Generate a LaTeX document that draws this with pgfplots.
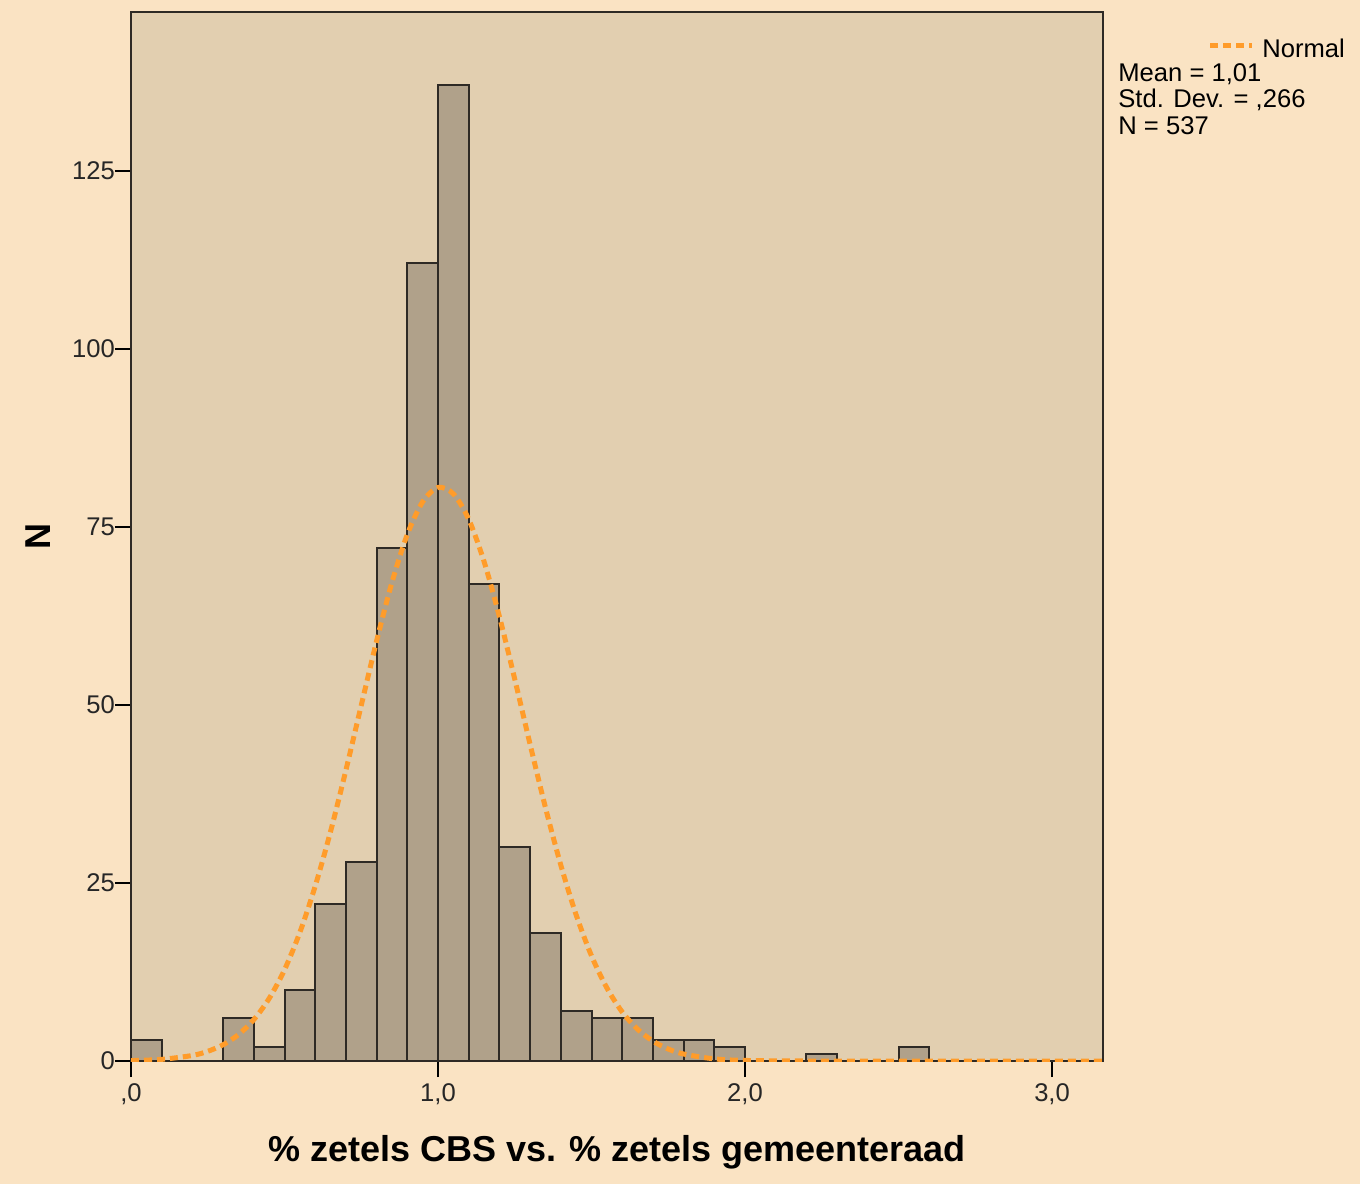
\documentclass[border=0pt]{standalone}
\usepackage{pgfplots}
\pgfplotsset{compat=1.18}
\usepackage{fontspec}
\setmainfont{Liberation Sans}
\definecolor{outerbg}{HTML}{FAE3C3}
\definecolor{innerbg}{HTML}{E2CFB0}
\definecolor{barfill}{HTML}{B0A18A}
\definecolor{baredge}{HTML}{2E2A25}
\definecolor{normorange}{HTML}{FF9C2A}
\begin{document}
\begin{tikzpicture}
\fill[outerbg] (0,0) rectangle (680pt,592pt);
\begin{axis}[
  at={(65.5pt,61.5pt)}, anchor=south west,
  scale only axis, width=486pt, height=524.5pt,
  xmin=0, xmax=3.166, ymin=0, ymax=147.3,
  axis background/.style={fill=innerbg},
  axis line style={draw=baredge, line width=1pt},
  tick align=outside,
  major tick length=8pt,
  tick style={draw=black, line width=0.9pt},
  xtick={0,1,2,3},
  xticklabels={{,0},{1,0},{2,0},{3,0}},
  ytick={0,25,50,75,100,125},
  xtick pos=bottom, ytick pos=left,
  /pgf/number format/assume math mode=true,
  ticklabel style={font=\fontsize{12.8}{14}\selectfont, text=black!85},
  yticklabel style={xshift=3.5pt},
  xlabel={\% zetels CBS vs. \% zetels gemeenteraad},
  ylabel={N},
  label style={font=\fontsize{18}{20}\selectfont\bfseries},
  xlabel style={yshift=-8pt},
  ylabel style={yshift=4pt},
  clip=true,
]
\addplot[ybar interval, fill=barfill, draw=baredge, line width=1pt] coordinates {
(0.0,3) (0.1,0) (0.2,0) (0.3,6) (0.4,2) (0.5,10) (0.6,22) (0.7,28) (0.8,72)
(0.9,112) (1.0,137) (1.1,67) (1.2,30) (1.3,18) (1.4,7) (1.5,6) (1.6,6)
(1.7,3) (1.8,3) (1.9,2) (2.0,0) (2.1,0) (2.2,1) (2.3,0) (2.4,0) (2.5,2) (2.6,0)
};
\addplot[normorange, line width=2.5pt, dash pattern=on 4pt off 2.5pt, smooth] coordinates {
(0.00,0.06) (0.10,0.23) (0.20,0.78) (0.25,1.36) (0.30,2.28) (0.35,3.71)
(0.40,5.81) (0.45,8.78) (0.50,12.81) (0.55,18.06) (0.60,24.56) (0.65,32.23)
(0.70,40.84) (0.75,49.95) (0.80,58.98) (0.85,67.21) (0.90,73.94) (0.95,78.52)
(1.00,80.53) (1.05,79.64) (1.10,76.06) (1.15,70.13) (1.20,62.40) (1.25,53.61)
(1.30,44.45) (1.35,35.58) (1.40,27.50) (1.45,20.51) (1.50,14.76) (1.55,10.26)
(1.60,6.88) (1.65,4.46) (1.70,2.79) (1.75,1.68) (1.80,0.98) (1.90,0.30)
(2.00,0.08) (2.20,0.00) (2.60,0.00) (3.00,0.00) (3.166,0.00)
};
\end{axis}
\draw[normorange, line width=2.5pt, dash pattern=on 4pt off 2.5pt] (605pt,569pt) -- (626pt,569pt);
\node[anchor=west, inner sep=0pt, font=\fontsize{12.8}{14}\selectfont] at (631pt,568pt) {Normal};
\node[anchor=west, inner sep=0pt, font=\fontsize{12.8}{14}\selectfont] at (559pt,555pt) {Mean = 1,01};
\node[anchor=west, inner sep=0pt, font=\fontsize{12.8}{14}\selectfont] at (559pt,542pt) {Std. Dev. = ,266};
\node[anchor=west, inner sep=0pt, font=\fontsize{12.8}{14}\selectfont] at (559pt,529pt) {N = 537};
\end{tikzpicture}
\end{document}
